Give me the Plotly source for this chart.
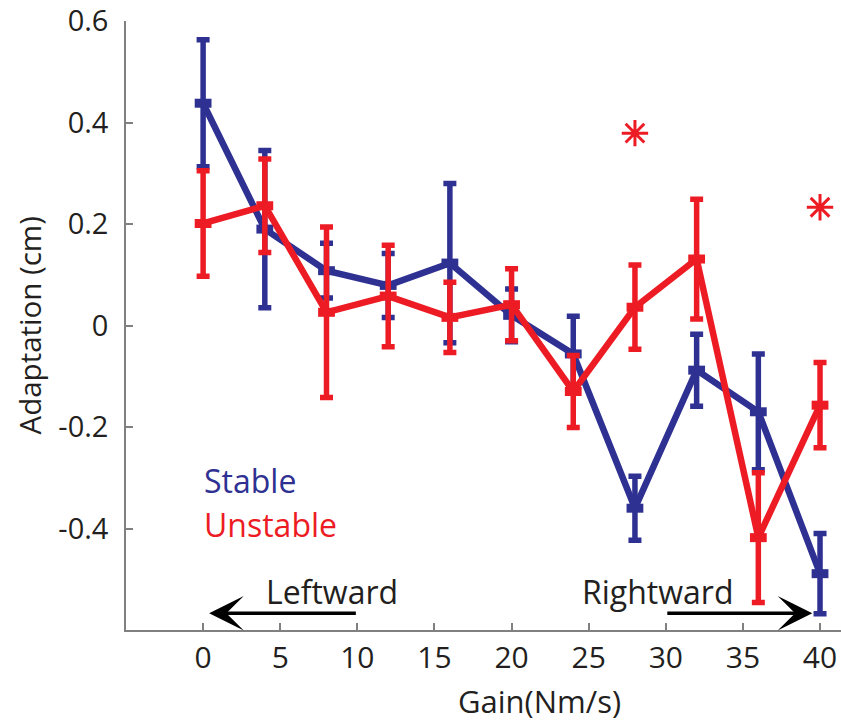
import plotly.graph_objects as go

# Gain levels tested (Nm/s)
gain = [0, 4, 8, 12, 16, 20, 24, 28, 32, 36, 40]

# Mean adaptation (cm) and standard error per condition
stable_mean = [0.438, 0.19, 0.108, 0.079, 0.123, 0.02, -0.056, -0.36, -0.088, -0.17, -0.489]
stable_err = [0.125, 0.155, 0.054, 0.063, 0.157, 0.052, 0.074, 0.063, 0.071, 0.114, 0.079]

unstable_mean = [0.201, 0.236, 0.026, 0.058, 0.016, 0.041, -0.13, 0.036, 0.131, -0.418, -0.157]
unstable_err = [0.104, 0.092, 0.168, 0.1, 0.069, 0.071, 0.071, 0.083, 0.118, 0.128, 0.084]

# Significance markers
sig_gain = [28, 40]
sig_y = [0.379, 0.233]

# Axis ticks
x_ticks = [0, 5, 10, 15, 20, 25, 30, 35, 40]
y_ticks = [-0.4, -0.2, 0, 0.2, 0.4, 0.6]
y_tick_text = ["-0.4", "-0.2", "0", "0.2", "0.4", "0.6"]

# Direction arrows: (tail gain, head gain)
left_arrow = (10, 0.39)
right_arrow = (30, 39.5)
arrow_y = -0.567

BLUE = "#2E3192"
RED = "#ED1C24"
INK = "#231F20"
AXIS = "#808080"
FONT = "Open Sans"

fig = go.Figure()

for mean, err, color in [(stable_mean, stable_err, BLUE), (unstable_mean, unstable_err, RED)]:
    fig.add_trace(go.Scatter(
        x=gain, y=mean, mode="lines+markers",
        line=dict(color=color, width=6.5),
        marker=dict(symbol="line-ew", size=12, color=color,
                    line=dict(color=color, width=9)),
        error_y=dict(type="data", array=err, visible=True, color=color,
                     thickness=5.5, width=6.5),
        cliponaxis=False, showlegend=False,
    ))

fig.add_trace(go.Scatter(
    x=sig_gain, y=sig_y, mode="markers",
    marker=dict(symbol="asterisk-open", size=22, color=RED,
                line=dict(color=RED, width=3)),
    cliponaxis=False, showlegend=False,
))

annotations = []
# arrows
for tail, head in [left_arrow, right_arrow]:
    annotations.append(dict(
        x=head, y=arrow_y, ax=tail, ay=arrow_y,
        xref="x", yref="y", axref="x", ayref="y",
        showarrow=True, arrowhead=3, arrowsize=1.65, arrowwidth=3.5,
        arrowcolor="black", text="", standoff=0,
    ))
annotations += [
    dict(x=8.33, y=-0.524, xref="x", yref="y", text="Leftward", showarrow=False,
         font=dict(family=FONT, size=32, color=INK), xanchor="center", yanchor="middle"),
    dict(x=29.43, y=-0.524, xref="x", yref="y", text="Rightward", showarrow=False,
         font=dict(family=FONT, size=32, color=INK), xanchor="center", yanchor="middle"),
    dict(x=-0.1, y=-0.306, xref="x", yref="y", text="Stable", showarrow=False,
         font=dict(family=FONT, size=32, color=BLUE), xanchor="left", yanchor="middle"),
    dict(x=-0.1, y=-0.392, xref="x", yref="y", text="Unstable", showarrow=False,
         font=dict(family=FONT, size=32, color=RED), xanchor="left", yanchor="middle"),
    # axis titles
    dict(x=0.579, y=-0.1165, xref="paper", yref="paper", text="Gain(Nm/s)",
         showarrow=False, font=dict(family=FONT, size=31, color=INK),
         xanchor="center", yanchor="middle"),
    dict(x=-0.1343, y=0.5, xref="paper", yref="paper", text="Adaptation (cm)",
         showarrow=False, textangle=-90, font=dict(family=FONT, size=29.5, color=INK),
         xanchor="center", yanchor="middle"),
]

fig.update_layout(
    width=841, height=723,
    margin=dict(l=126, r=0, t=21, b=93),
    paper_bgcolor="white", plot_bgcolor="white",
    annotations=annotations,
    xaxis=dict(
        range=[-5, 41.36], tickvals=x_ticks, ticks="inside", ticklen=7,
        tickcolor=AXIS, tickwidth=1.5, showline=True, linecolor=AXIS, linewidth=1.5,
        showgrid=False, zeroline=False, ticklabelstandoff=0,
        tickfont=dict(family=FONT, size=30, color=INK),
    ),
    yaxis=dict(
        range=[-0.6, 0.6], tickvals=y_ticks, ticktext=y_tick_text, ticks="inside",
        ticklen=7, tickcolor=AXIS, tickwidth=1.5, showline=True, linecolor=AXIS,
        linewidth=1.5, showgrid=False, zeroline=False, ticklabelstandoff=10,
        tickfont=dict(family=FONT, size=29, color=INK),
    ),
)

fig.write_html("out.html")
